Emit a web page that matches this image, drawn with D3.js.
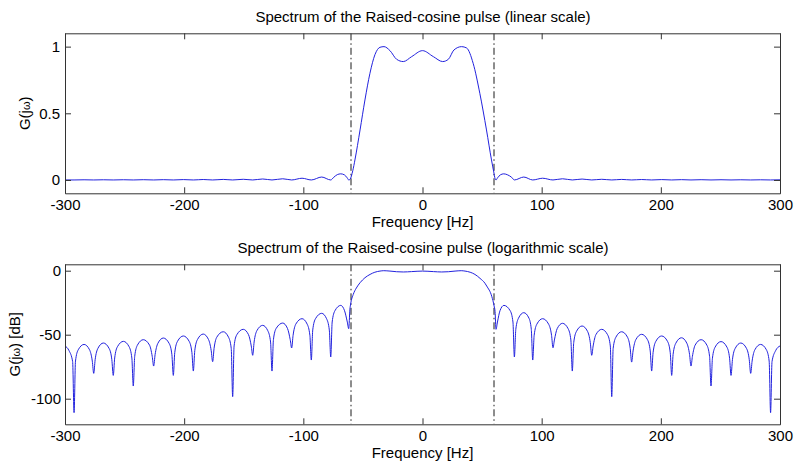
<!DOCTYPE html>
<html>
<head>
<meta charset="utf-8">
<script src="https://cdn.jsdelivr.net/npm/d3@7/dist/d3.min.js"></script>
<style>
  html, body { margin: 0; padding: 0; background: #fff; }
  svg { display: block; font-family: "Liberation Sans", Arial, sans-serif; }
</style>
</head>
<body>
<svg id="chart" width="795" height="466"></svg>
<script>
// ---------- data ----------
const titles = [
  "Spectrum of the Raised-cosine pulse (linear scale)",
  "Spectrum of the Raised-cosine pulse (logarithmic scale)"
];
const xLabel = "Frequency [Hz]";
const xDomain = [-300, 300];
const xTicks = [-300, -200, -100, 0, 100, 200, 300];
const linDomain = [-0.1, 1.1];
const linTicks = [0, 0.5, 1];
const dbDomain = [-120, 5];
const dbTicks = [-100, -50, 0];
const bandEdges = [-60, 60];

// linear magnitude |G(jw)|: [frequency, value]
const linSpectrum = [
  [-300, 0], [-292.4, 0], [-284, 0.0013], [-275.9, 0], [-267.8, 0.0015], [-259.5, 0],
  [-251, 0.0017], [-242.7, 0], [-234.3, 0.002], [-225.6, 0], [-217.5, 0.0023], [-209.1, 0],
  [-200.7, 0.0028], [-192.3, 0], [-184, 0.0034], [-176.1, 0], [-167.2, 0.0041], [-159.3, 0],
  [-150.4, 0.0051], [-142.5, 0], [-134.1, 0.0073], [-126.3, 0], [-117.3, 0.009], [-109.8, 0],
  [-101.1, 0.013], [-93.3, 0], [-84.6, 0.022], [-77, 0], [-74.5, 0.02], [-71.5, 0.04],
  [-68.6, 0.046], [-65.5, 0.038], [-63.2, 0.016], [-61.9, 0],
  [-60.8, 0.005], [-58.5, 0.07], [-56.7, 0.15], [-52.4, 0.375], [-48.3, 0.6], [-44.1, 0.8],
  [-39.9, 0.94], [-35.7, 0.995], [-32.3, 1.0], [-27.3, 0.97], [-21.7, 0.905], [-16.1, 0.888],
  [-9.1, 0.925], [0, 0.97], [9.1, 0.925], [16.9, 0.888], [21.7, 0.905], [26.4, 0.975],
  [32.8, 1.0], [37, 0.99], [42.5, 0.875], [48.1, 0.65], [53.7, 0.375], [57.9, 0.15],
  [59.8, 0.06], [60.9, 0.01], [61.7, 0],
  [63, 0.016], [65.3, 0.038], [68.2, 0.046], [71.5, 0.038], [74.8, 0.02], [77.1, 0],
  [85, 0.022], [92.5, 0], [100.8, 0.013], [109.5, 0], [117.5, 0.009], [125.7, 0],
  [133.9, 0.0069], [142, 0], [150.4, 0.0051], [158.8, 0], [167.1, 0.0041], [175.5, 0],
  [183.9, 0.0033], [192.3, 0], [200.7, 0.0028], [209.1, 0], [217.3, 0.0024], [225.3, 0],
  [233.8, 0.002], [242.1, 0], [250.5, 0.0017], [258.9, 0], [267.1, 0.0015], [275.4, 0],
  [283.7, 0.0013], [292.1, 0], [300, 0.0011]
];

// magnitude in dB: [frequency, dB]
const dbSpectrum = [
  [-300, -58.8], [-296.6, -62.5], [-293.6, -71], [-292.4, -110.9],
  [-291.2, -70.6], [-288.9, -61.8], [-284, -57.6], [-279.4, -61.8], [-277.1, -70.6], [-275.9, -80.2],
  [-274.7, -69.5], [-272.4, -60.7], [-267.8, -56.5], [-263, -60.7], [-260.7, -69.5], [-259.5, -81.8],
  [-258.3, -68.2], [-256, -59.4], [-251, -55.2], [-246.2, -59.4], [-243.9, -68.2], [-242.7, -90.1],
  [-241.5, -66.9], [-239.2, -58.1], [-234.3, -53.9], [-229.1, -58.1], [-226.8, -66.9], [-225.6, -74.5],
  [-224.4, -65.6], [-222.1, -56.8], [-217.5, -52.6], [-212.6, -56.8], [-210.3, -65.6], [-209.1, -81.8],
  [-207.9, -64], [-205.6, -55.2], [-200.7, -51], [-195.8, -55.2], [-193.5, -64], [-192.3, -78.4],
  [-191.1, -62.5], [-188.8, -53.7], [-184, -49.5], [-179.6, -53.7], [-177.3, -62.5], [-176.1, -71.1],
  [-174.9, -60.7], [-172.6, -51.9], [-167.2, -47.7], [-162.8, -51.9], [-160.5, -60.7], [-159.3, -98.4],
  [-158.1, -58.8], [-155.8, -50], [-150.4, -45.8], [-146, -50], [-143.7, -58.8], [-142.5, -66.1],
  [-141.3, -55.7], [-139, -46.9], [-134.1, -42.7], [-129.8, -46.9], [-127.5, -55.7], [-126.3, -78.4],
  [-125.1, -53.9], [-122.8, -45.1], [-117.3, -40.9], [-113.3, -45.1], [-111, -53.9], [-109.8, -60.4],
  [-108.6, -50.5], [-106.3, -41.7], [-101.1, -37.5], [-96.8, -41.7], [-94.5, -50.5], [-93.3, -69.8],
  [-92.1, -46.3], [-89.8, -37.5], [-84.6, -33.3], [-80.5, -37.5], [-78.2, -46.3], [-77, -67.4],
  [-75.8, -40.1], [-73.5, -31.3], [-68.6, -27.1], [-65.4, -31.3], [-63.1, -40.1], [-61.9, -45.3],
  [-60.9, -30], [-60.3, -26], [-58.1, -18.5], [-55.5, -13.5], [-52.4, -9.4], [-48.3, -5.5],
  [-44, -2.9], [-40, -1.2], [-35.7, -0.3], [-32.5, 0], [-27.3, -0.3], [-21.7, -0.8],
  [-16.1, -1.0], [-9.1, -0.7], [0, -0.3], [9.1, -0.7], [16.1, -1.0], [21.7, -0.8],
  [27.3, -0.3], [32.5, 0], [35.7, -0.3], [40, -1.2], [44, -2.9], [48.3, -6],
  [52.4, -9.8], [53.9, -12], [58.1, -20], [60.1, -27.6], [60.9, -32], [61.7, -45.8],
  [62.9, -40.1], [65, -31.3], [68.3, -27.1], [73.6, -31.3], [75.9, -40.1], [77.1, -67.4],
  [78.3, -45.8], [80.6, -37], [85, -32.8], [89.3, -37], [91.3, -45.8], [92.5, -69.8],
  [93.7, -50.5], [96, -41.7], [100.8, -37.5], [105.8, -41.7], [108.3, -50.5], [109.5, -60.2],
  [110.7, -54.1], [113, -45.3], [117.5, -41.1], [122.2, -45.3], [124.5, -54.1], [125.7, -78.4],
  [126.9, -56.2], [129.2, -47.4], [133.9, -43.2], [138.5, -47.4], [140.8, -56.2], [142, -66.1],
  [143.2, -58.8], [145.5, -50], [150.4, -45.8], [155.3, -50], [157.6, -58.8], [158.8, -98.4],
  [160, -60.7], [162.3, -51.9], [167.1, -47.7], [172, -51.9], [174.3, -60.7], [175.5, -71.4],
  [176.7, -62.7], [179, -53.9], [183.9, -49.7], [188.8, -53.9], [191.1, -62.7], [192.3, -78.4],
  [193.5, -64], [195.8, -55.2], [200.7, -51], [205.6, -55.2], [207.9, -64], [209.1, -81.8],
  [210.3, -65.4], [212.6, -56.6], [217.3, -52.4], [221.8, -56.6], [224.1, -65.4], [225.3, -74.5],
  [226.5, -66.9], [228.8, -58.1], [233.8, -53.9], [238.6, -58.1], [240.9, -66.9], [242.1, -90.1],
  [243.3, -68.4], [245.6, -59.6], [250.5, -55.4], [255.4, -59.6], [257.7, -68.4], [258.9, -81.8],
  [260.1, -69.5], [262.4, -60.7], [267.1, -56.5], [271.9, -60.7], [274.2, -69.5], [275.4, -80.2],
  [276.6, -70.6], [278.9, -61.8], [283.7, -57.6], [288.6, -61.8], [290.9, -70.6], [292.1, -110.9],
  [293.3, -71], [296.3, -62.5], [300, -58.8]
];

// ---------- drawing ----------
const svg = d3.select("#chart");
const left = 65, right = 780;
const hyphen = d => String(d).replace("\u2212", "-");
const panels = [
  { top: 33.3, bottom: 193.3, domain: linDomain, ticks: linTicks, data: linSpectrum,
    title: titles[0], ylab: ["G(j", "ω", ")"], ylabX: 30, pad: 5 },
  { top: 264.3, bottom: 424.3, domain: dbDomain, ticks: dbTicks, data: dbSpectrum,
    title: titles[1], ylab: ["G(j", "ω", ") [dB]"], ylabX: 20, pad: 4 }
];
const lineColor = "#2222dd";
const axisColor = "#333";
const fontSize = 15;

panels.forEach(p => {
  const x = d3.scaleLinear().domain(xDomain).range([left, right]);
  const y = d3.scaleLinear().domain(p.domain).range([p.bottom, p.top]);
  const g = svg.append("g");
  const h = p.bottom - p.top, w = right - left;

  const clipId = "clip" + Math.round(p.top);
  g.append("clipPath").attr("id", clipId).append("rect")
    .attr("x", left).attr("y", p.top).attr("width", w).attr("height", h);

  // band edge lines
  g.append("g").attr("clip-path", `url(#${clipId})`)
    .selectAll("line").data(bandEdges).join("line")
    .attr("x1", d => x(d)).attr("x2", d => x(d))
    .attr("y1", p.top).attr("y2", p.bottom)
    .attr("stroke", "#000").attr("stroke-width", 0.9)
    .attr("stroke-dasharray", "7,3,1.5,3");

  // curve
  g.append("path").datum(p.data)
    .attr("clip-path", `url(#${clipId})`)
    .attr("fill", "none").attr("stroke", lineColor).attr("stroke-width", 1)
    .attr("d", d3.line().x(d => x(d[0])).y(d => y(d[1])).curve(d3.curveMonotoneX));

  // axes
  const ax = d3.axisBottom(x).tickValues(xTicks).tickSizeInner(-6).tickSizeOuter(0)
    .tickPadding(6).tickFormat(d => String(d));
  const axT = d3.axisTop(x).tickValues(xTicks).tickSizeInner(-6).tickSizeOuter(0).tickFormat("");
  const ay = d3.axisLeft(y).tickValues(p.ticks).tickSizeInner(-6).tickSizeOuter(0)
    .tickPadding(p.pad).tickFormat(d => String(d));
  const ayR = d3.axisRight(y).tickValues(p.ticks).tickSizeInner(-6).tickSizeOuter(0).tickFormat("");

  const style = sel => {
    sel.selectAll("path.domain").attr("stroke", axisColor);
    sel.selectAll(".tick line").attr("stroke", axisColor);
    sel.selectAll(".tick text").attr("fill", "#000")
      .style("font-size", fontSize + "px")
      .style("font-family", "'Liberation Sans', Arial, sans-serif")
      .text(function () { return hyphen(d3.select(this).text()); });
  };
  g.append("g").attr("transform", `translate(0,${p.bottom})`).call(ax).call(style);
  g.append("g").attr("transform", `translate(0,${p.top})`).call(axT).call(style);
  g.append("g").attr("transform", `translate(${left},0)`).call(ay).call(style);
  g.append("g").attr("transform", `translate(${right},0)`).call(ayR).call(style);

  // title
  g.append("text").attr("x", (left + right) / 2 + 0.5).attr("y", p.top - 11.5)
    .attr("text-anchor", "middle").attr("fill", "#000")
    .style("font-size", fontSize + "px").text(p.title);

  // x label
  g.append("text").attr("x", (left + right) / 2).attr("y", p.bottom + 33.5)
    .attr("text-anchor", "middle").attr("fill", "#000")
    .style("font-size", fontSize + "px").text(xLabel);

  // y label
  const yl = g.append("text")
    .attr("transform", `translate(${p.ylabX},${(p.top + p.bottom) / 2}) rotate(-90)`)
    .attr("text-anchor", "middle").attr("fill", "#000")
    .style("font-size", fontSize + "px");
  yl.append("tspan").text(p.ylab[0]);
  yl.append("tspan").style("font-size", "11px").text(p.ylab[1]);
  yl.append("tspan").text(p.ylab[2]);
});
</script>
</body>
</html>
